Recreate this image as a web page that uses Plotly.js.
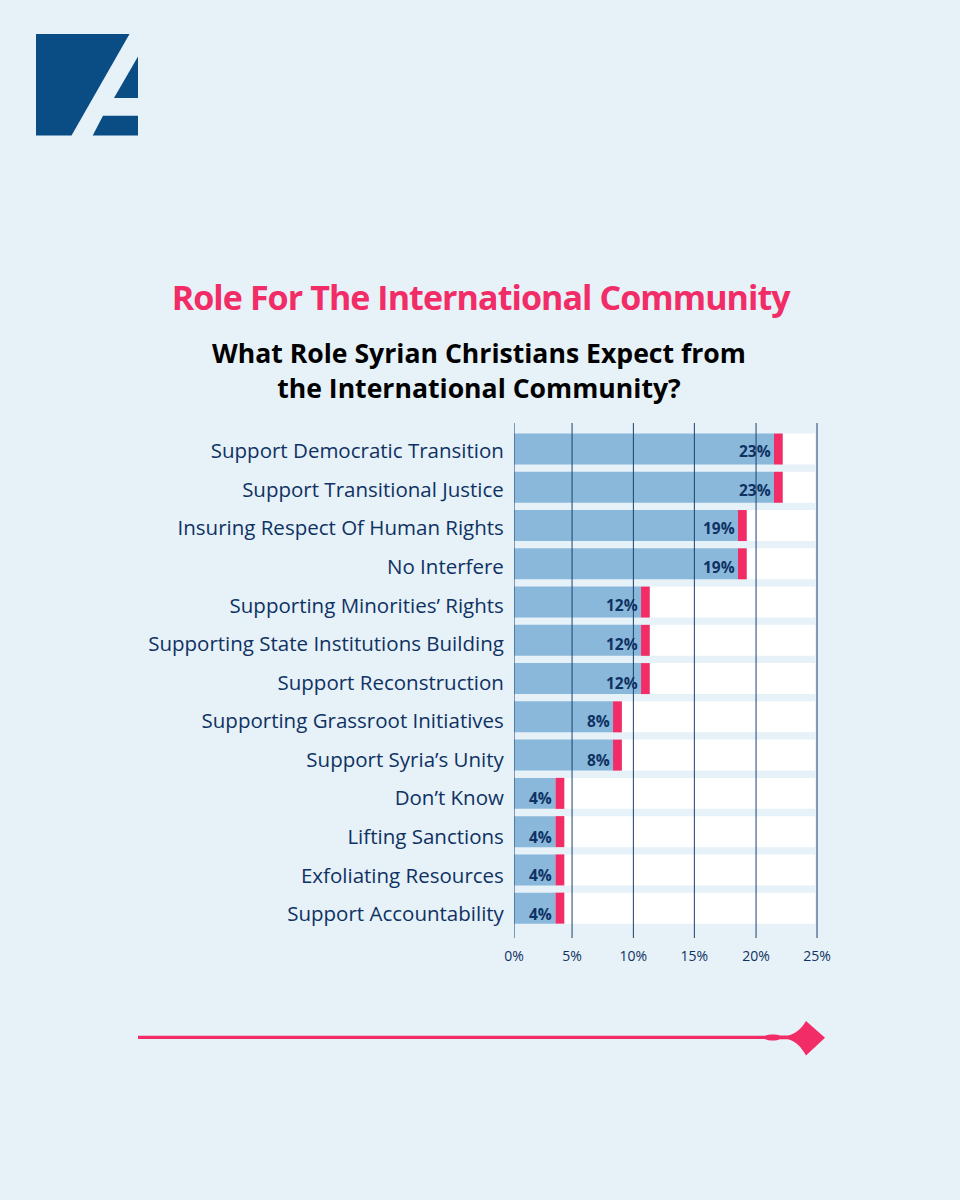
<!DOCTYPE html>
<html><head><meta charset="utf-8">
<script src="https://cdn.plot.ly/plotly-3.0.1.min.js"></script>
<style>html,body{margin:0;padding:0;background:#e6f1f8}#c{width:960px;height:1200px}
.annotation[data-index="0"] text{letter-spacing:-0.93px}</style>
</head><body><div id="c"></div>
<script>
const categories = ["Support Democratic Transition","Support Transitional Justice","Insuring Respect Of Human Rights","No Interfere","Supporting Minorities’ Rights","Supporting State Institutions Building","Support Reconstruction","Supporting Grassroot Initiatives","Support Syria’s Unity","Don’t Know","Lifting Sanctions","Exfoliating Resources","Support Accountability"];
const labels = ["23%","23%","19%","19%","12%","12%","12%","8%","8%","4%","4%","4%","4%"];
const blueEnd = [21.45,21.45,18.48,18.48,10.48,10.48,10.48,8.17,8.17,3.41,3.41,3.41,3.41];
const redEnd = [22.17,22.17,19.2,19.2,11.2,11.2,11.2,8.9,8.9,4.15,4.15,4.15,4.15];
const trackEnd = [24.85,24.85,24.85,24.85,24.85,24.85,24.85,24.85,24.85,24.85,24.85,24.85,24.85];
const tickVals = [0,4.79,9.85,14.88,19.97,25];
const tickText = ["0%","5%","10%","15%","20%","25%"];

const BG="#e6f1f8", BLUE="#8ab8db", RED="#f22c66", DARK="#0f3263", LOGO="#0a4d85";
const FONT='"Open Sans", sans-serif';
const L=514,R=818,T=423,B=938;
const px=x=>((x-L)/(R-L)).toFixed(5), py=y=>((B-y)/(B-T)).toFixed(5);
function path(cmds){return cmds.map(c=>{
  if(c==="Z")return "Z";
  const [k,...n]=c; let s=k;
  for(let i=0;i<n.length;i+=2)s+=(i?" ":"")+px(n[i])+","+py(n[i+1]);
  return s;}).join(" ");}
const deco=(cmds,color)=>({type:"path",xref:"paper",yref:"paper",path:path(cmds),fillcolor:color,line:{width:0},layer:"above"});

const shapes=[
 deco([["M",36,34],["L",129.5,34],["L",71.5,135.5],["L",36,135.5],"Z"],LOGO),
 deco([["M",138,56.5],["L",138,98],["L",114,98],"Z"],LOGO),
 deco([["M",103,115.7],["L",138,115.7],["L",138,135.5],["L",92.7,135.5],"Z"],LOGO),
 deco([["M",138,1035.8],["L",765,1035.8],["C",769,1034,776,1034,780,1035.5],["L",788,1035.5],
       ["C",796,1034,802,1028,806,1021],["L",825,1037.7],["L",806,1055.6],
       ["C",802,1048,796,1041,788,1039.2],["L",780,1039.2],["C",776,1041,769,1041,765,1039],["L",138,1039],"Z"],RED)
];
tickVals.forEach(v=>shapes.push({type:"line",xref:"x",yref:"paper",x0:v,x1:v,y0:0,y1:1,line:{color:"#1d4070",width:1},layer:"above"}));

const annotations=[
 {xref:"paper",yref:"paper",x:px(481),y:py(297),xanchor:"center",yanchor:"middle",showarrow:false,
  text:"<b>Role For The International Community</b>",font:{family:FONT,size:34,color:RED}},
 {xref:"paper",yref:"paper",x:px(479.5),y:py(370.5),xanchor:"center",yanchor:"middle",showarrow:false,align:"center",
  text:"<b>What Role Syrian Christians Expect from<br>the International Community?</b>",font:{family:FONT,size:26.6,color:"#000"}}
];
categories.forEach((c,i)=>annotations.push({xref:"x",yref:"y2",x:blueEnd[i],y:c,xanchor:"right",yanchor:"middle",xshift:-1,showarrow:false,
  text:"<b>"+labels[i]+"</b>",font:{family:FONT,size:15.5,color:DARK}}));

const diff=(a,b)=>a.map((v,i)=>v-b[i]);
const bar=(x,base,color)=>({type:"bar",orientation:"h",y:categories,x:x,base:base,width:0.81,marker:{color:color,line:{width:0}},hoverinfo:"skip",showlegend:false});
const labelCarrier={type:"bar",orientation:"h",y:categories,x:categories.map(()=>0),yaxis:"y2",marker:{opacity:0},hoverinfo:"skip",showlegend:false};
Plotly.newPlot("c",[bar(diff(trackEnd,redEnd),redEnd,"#ffffff"),bar(diff(redEnd,blueEnd),blueEnd,RED),bar(blueEnd,blueEnd.map(()=>0),BLUE),labelCarrier],{
  width:960,height:1200,paper_bgcolor:BG,plot_bgcolor:BG,barmode:"overlay",showlegend:false,
  margin:{l:L,r:960-R,t:T,b:1200-B,pad:0},
  xaxis:{range:[0,25.08],tickmode:"array",tickvals:tickVals,ticktext:tickText,showgrid:false,zeroline:false,showline:false,
    ticks:"outside",ticklen:5,tickcolor:"rgba(0,0,0,0)",tickfont:{family:FONT,size:14,color:DARK},fixedrange:true},
  yaxis:{type:"category",categoryorder:"array",categoryarray:categories,range:[12.78,-0.68],showgrid:false,zeroline:false,showline:false,
    showticklabels:false,ticks:"",fixedrange:true},
  yaxis2:{type:"category",overlaying:"y",side:"left",anchor:"x",categoryorder:"array",categoryarray:categories,range:[12.622,-0.726],showgrid:false,zeroline:false,showline:false,
    ticks:"outside",ticklen:5,tickcolor:"rgba(0,0,0,0)",tickfont:{family:FONT,size:20.5,color:DARK},fixedrange:true},
  shapes:shapes,annotations:annotations
},{displayModeBar:false,staticPlot:true});
</script></body></html>
